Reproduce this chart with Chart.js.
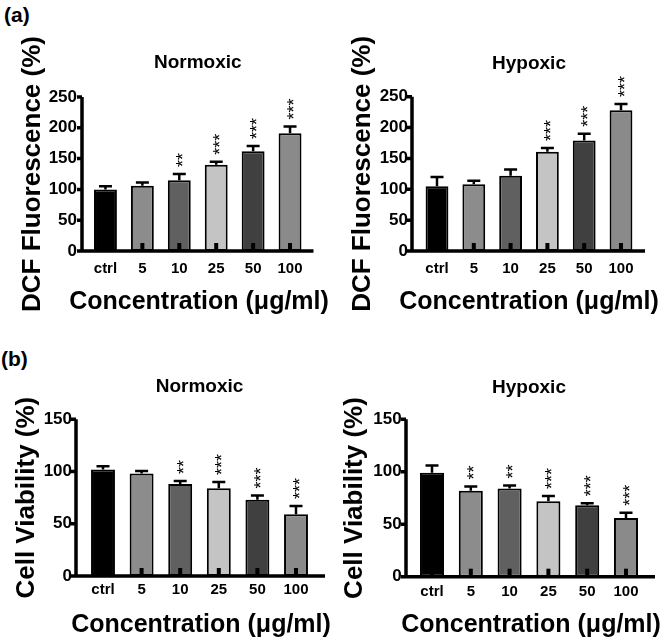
<!DOCTYPE html>
<html>
<head>
<meta charset="utf-8">
<script src="https://cdn.jsdelivr.net/npm/chart.js@4"></script>
<style>
  html, body { margin: 0; padding: 0; background: #fff; }
  #page { position: relative; width: 662px; height: 637px; overflow: hidden;
          font-family: 'Liberation Sans', Arial, sans-serif; }
  .panel { position: absolute; }
  .tag { position: absolute; font-weight: bold; font-size: 21px; line-height: 1; color: #000; }
</style>
</head>
<body>
<div id="page">
  <div class="tag" style="left:4px; top:4px;">(a)</div>
  <div class="tag" style="left:1px; top:348px;">(b)</div>
  <canvas id="dcfNorm" class="panel" width="331" height="318" style="left:0; top:0;"></canvas>
  <canvas id="dcfHyp"  class="panel" width="331" height="318" style="left:331px; top:0;"></canvas>
  <canvas id="cvNorm"  class="panel" width="331" height="318" style="left:0; top:319px;"></canvas>
  <canvas id="cvHyp"   class="panel" width="331" height="318" style="left:331px; top:319px;"></canvas>
</div>
<script>
'use strict';

// ── Data ────────────────────────────────────────────────────────
const doses = ['ctrl', '5', '10', '25', '50', '100'];

const dcfNormMean = [100, 106, 115, 140, 162, 191];
const dcfNormSd   = [5, 5, 10, 5, 8.5, 11];
const dcfNormSig  = ['', '', '**', '***', '***', '***'];

const dcfHypMean  = [105, 108, 122, 161, 179, 228];
const dcfHypSd    = [15, 6, 10, 6, 11, 10];
const dcfHypSig   = ['', '', '', '***', '***', '***'];

const cvNormMean  = [102, 98, 88, 84, 73, 59];
const cvNormSd    = [3, 2.5, 3, 6, 4, 8];
const cvNormSig   = ['', '', '**', '***', '***', '***'];

const cvHypMean   = [99, 82, 84, 72, 68, 56];
const cvHypSd     = [7, 4, 3, 5, 2, 5];
const cvHypSig    = ['', '**', '**', '***', '***', '***'];

const dcfTicks = { max: 250, step: 50 };
const cvTicks  = { max: 150, step: 50 };

const X_TITLE = 'Concentration (μg/ml)';

// ── Style ───────────────────────────────────────────────────────
const FONT = "'Liberation Sans', Arial, sans-serif";
const BAR_COLORS = ['#000000', '#8c8c8c', '#606060', '#c4c4c4', '#404040', '#8a8a8a'];
const CANVAS_H = 318;
const CANVAS_W = 331;

// panel geometry (pixels inside each canvas)
const GEO_TL = { left: 87, right: 308.5, top: 97, plotH: 154, gap: 5, ext: 5, titleY: 63, yTitleX: 33, xTitleX: 199, xTitleY: 302, xTickPad: 8.5, yTickPad: 10 };
const GEO_TR = { left: 87.6, right: 308.4, top: 96.7, plotH: 154.3, gap: 6.6, ext: 5.6, titleY: 63.5, yTitleX: 32, xTitleX: 198, xTitleY: 302, xTickPad: 8.5, yTickPad: 10.6 };
const GEO_BL = { left: 83.7, right: 315.3, top: 100.3, plotH: 156.7, gap: 7.7, ext: 9.7, titleY: 68, yTitleX: 27, xTitleX: 201, xTitleY: 306, xTickPad: 5, yTickPad: 11.7 };
const GEO_BR = { left: 81.6, right: 314.4, top: 100.3, plotH: 157.4, gap: 6.6, ext: 9.6, titleY: 68.5, yTitleX: 24, xTitleX: 200, xTitleY: 306, xTickPad: 6.5, yTickPad: 10.9 };

// ── GraphPad-like axes, error bars and significance stars ──────
function prismPlugin(geo, sd, sig) {
  return {
    id: 'prism',
    afterDatasetsDraw(chart) {
      const ctx = chart.ctx;
      const area = chart.chartArea;
      const ys = chart.scales.y;
      const meta = chart.getDatasetMeta(0);
      const means = chart.data.datasets[0].data;

      ctx.save();
      ctx.strokeStyle = '#000';
      ctx.fillStyle = '#000';

      // error bars (upper only) + stars
      ctx.font = '18px ' + FONT;
      const m = ctx.measureText('*');
      const starShift = (m.actualBoundingBoxAscent - m.actualBoundingBoxDescent) / 2;
      meta.data.forEach((bar, i) => {
        const top = ys.getPixelForValue(means[i] + sd[i]);
        ctx.lineWidth = 2.5;
        ctx.beginPath();
        ctx.moveTo(bar.x, bar.y);
        ctx.lineTo(bar.x, top);
        ctx.moveTo(bar.x - 6.5, top);
        ctx.lineTo(bar.x + 6.5, top);
        ctx.stroke();

        if (sig[i]) {
          ctx.save();
          ctx.translate(bar.x, top - 7);
          ctx.rotate(-Math.PI / 2);
          ctx.textAlign = 'left';
          ctx.textBaseline = 'alphabetic';
          ctx.fillText(sig[i], 0, starShift);
          ctx.restore();
        }
      });

      // axes
      const ax = area.left - geo.gap;
      const y0 = ys.getPixelForValue(0);
      const yTop = ys.getPixelForValue(ys.max);
      ctx.lineWidth = 3.5;
      ctx.beginPath();
      ctx.moveTo(ax, yTop);
      ctx.lineTo(ax, y0);
      ctx.moveTo(ax - 1.75, y0);
      ctx.lineTo(area.right + geo.ext, y0);
      ys.ticks.forEach(t => {
        const y = ys.getPixelForValue(t.value);
        ctx.moveTo(ax, y);
        ctx.lineTo(ax - 5, y);
      });
      ctx.stroke();

      // small inward ticks at each category
      meta.data.forEach(bar => {
        ctx.fillRect(bar.x - 2, y0 - 8, 4, 8);
      });

      // x-axis title, drawn without width squeezing
      ctx.font = 'bold 25px ' + FONT;
      ctx.textAlign = 'center';
      ctx.textBaseline = 'middle';
      ctx.fillText(X_TITLE, geo.xTitleX, geo.xTitleY);
      ctx.restore();
    }
  };
}

// ── Chart builder ───────────────────────────────────────────────
function makePanel(id, geo, title, yTitle, yTicks, mean, sd, sig) {
  const ctx = document.getElementById(id).getContext('2d');
  return new Chart(ctx, {
    type: 'bar',
    data: {
      labels: doses,
      datasets: [{
        data: mean,
        backgroundColor: BAR_COLORS,
        borderColor: '#000',
        borderWidth: 2,
        borderSkipped: false,
        barPercentage: 0.62,
        categoryPercentage: 1
      }]
    },
    options: {
      responsive: false,
      animation: false,
      events: [],
      layout: { padding: { left: 0, right: CANVAS_W - geo.right, top: 0, bottom: 0 } },
      plugins: {
        legend: { display: false },
        tooltip: { enabled: false },
        title: {
          display: true,
          text: title,
          color: '#000',
          fullSize: false,
          font: { family: FONT, size: 19, weight: 'bold', lineHeight: 1.2 },
          padding: { top: geo.titleY - 11.4, bottom: geo.top - geo.titleY - 11.4 }
        }
      },
      scales: {
        x: {
          grid: { display: false, drawTicks: false },
          border: { display: false },
          ticks: {
            color: '#000',
            font: { family: FONT, size: 15, weight: 'bold' },
            padding: geo.xTickPad,
            maxRotation: 0,
            autoSkip: false
          },
          title: { display: false },
          afterFit: s => { s.height = CANVAS_H - (geo.top + geo.plotH); }
        },
        y: {
          min: 0,
          max: yTicks.max,
          grid: { display: false, drawTicks: false },
          border: { display: false },
          ticks: {
            stepSize: yTicks.step,
            color: '#000',
            font: { family: FONT, size: 17, weight: 'bold' },
            padding: geo.yTickPad
          },
          title: {
            display: true,
            text: yTitle,
            color: '#000',
            font: { family: FONT, size: 26, weight: 'bold', lineHeight: 1 },
            padding: { top: geo.yTitleX - 13, bottom: 0 }
          },
          afterFit: s => { s.width = geo.left; }
        }
      }
    },
    plugins: [prismPlugin(geo, sd, sig)]
  });
}

makePanel('dcfNorm', GEO_TL, 'Normoxic', 'DCF Fluorescence (%)', dcfTicks, dcfNormMean, dcfNormSd, dcfNormSig);
makePanel('dcfHyp',  GEO_TR, 'Hypoxic',  'DCF Fluorescence (%)', dcfTicks, dcfHypMean,  dcfHypSd,  dcfHypSig);
makePanel('cvNorm',  GEO_BL, 'Normoxic', 'Cell Viability (%)',   cvTicks,  cvNormMean,  cvNormSd,  cvNormSig);
makePanel('cvHyp',   GEO_BR, 'Hypoxic',  'Cell Viability (%)',   cvTicks,  cvHypMean,   cvHypSd,   cvHypSig);
</script>
</body>
</html>
